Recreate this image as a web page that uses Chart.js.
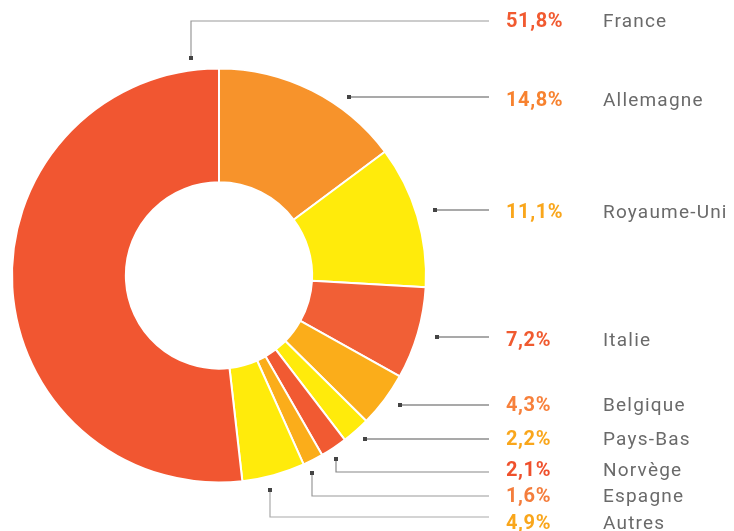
<!DOCTYPE html>
<html>
<head>
<meta charset="utf-8">
<script src="https://cdn.jsdelivr.net/npm/chart.js@4"></script>
<style>
  html, body { margin: 0; padding: 0; background: #fff; }
  #wrap { width: 734px; height: 531px; }
</style>
</head>
<body>
<div id="wrap"><canvas id="pays"></canvas></div>
<script>
// slices, clockwise from 12 o'clock
const countries = ['Allemagne', 'Royaume-Uni', 'Italie', 'Belgique', 'Pays-Bas', 'Norvège', 'Espagne', 'Autres', 'France'];
const shares = [14.8, 11.1, 7.2, 4.3, 2.2, 2.1, 1.6, 4.9, 51.8];
const sliceColors = ['#f7932b', '#ffeb0b', '#f15f36', '#fbad1a', '#ffeb0b', '#f15a32', '#fbad1a', '#ffeb0b', '#f15631'];
const pctColors = ['#f7822f', '#f9a61b', '#f05a2f', '#f7803b', '#f9a61b', '#ef502c', '#f47d3c', '#f9a61b', '#f15a30'];

// leader line layout: dot position, y of the horizontal run, text y, line colour
const leaders = [
    { dx: 349, dy: 97, ly: 97, ty: 101, c: '#555' },
    { dx: 435, dy: 210, ly: 210, ty: 213, c: '#555' },
    { dx: 437, dy: 337, ly: 337, ty: 341, c: '#555' },
    { dx: 400, dy: 405, ly: 405, ty: 406, c: '#555' },
    { dx: 365, dy: 439, ly: 439, ty: 440, c: '#555' },
    { dx: 336, dy: 459, ly: 472, ty: 471, c: '#888' },
    { dx: 312, dy: 473, ly: 496, ty: 497, c: '#999' },
    { dx: 270, dy: 490, ly: 517, ty: 524, c: '#aaa' },
    { dx: 191, dy: 58, ly: 21, ty: 22, c: '#999' }
];

const fmt = v => v.toFixed(1).replace('.', ',') + '%';

const leaderLabels = {
    id: 'leaderLabels',
    afterDraw(chart) {
        const ctx = chart.ctx;
        ctx.save();
        leaders.forEach((l, i) => {
            ctx.strokeStyle = l.c;
            ctx.lineWidth = 1.2;
            ctx.beginPath();
            ctx.moveTo(l.dx, l.dy);
            ctx.lineTo(l.dx, l.ly);
            ctx.lineTo(489, l.ly);
            ctx.stroke();
            ctx.fillStyle = '#444';
            ctx.fillRect(l.dx - 2, l.dy - 2, 4, 4);

            ctx.textBaseline = 'middle';
            ctx.textAlign = 'left';
            ctx.letterSpacing = '0.6px';
            ctx.font = 'bold 20px Roboto';
            ctx.fillStyle = pctColors[i];
            ctx.fillText(fmt(shares[i]), 506, l.ty);
            ctx.font = '400 19px Roboto';
            ctx.letterSpacing = '1.2px';
            ctx.fillStyle = '#6a6a6a';
            ctx.fillText(countries[i], 603, l.ty);
        });
        ctx.restore();
    }
};

new Chart(document.getElementById('pays'), {
    type: 'doughnut',
    data: {
        labels: countries,
        datasets: [{
            data: shares,
            backgroundColor: sliceColors,
            borderColor: '#fff',
            borderWidth: 2,
            hoverOffset: 0
        }]
    },
    options: {
        responsive: true,
        maintainAspectRatio: false,
        animation: false,
        cutout: '45%',
        layout: { padding: { left: 11, right: 307, top: 67.5, bottom: 47.5 } },
        plugins: {
            legend: { display: false },
            tooltip: { enabled: false }
        }
    },
    plugins: [leaderLabels]
});
</script>
</body>
</html>
